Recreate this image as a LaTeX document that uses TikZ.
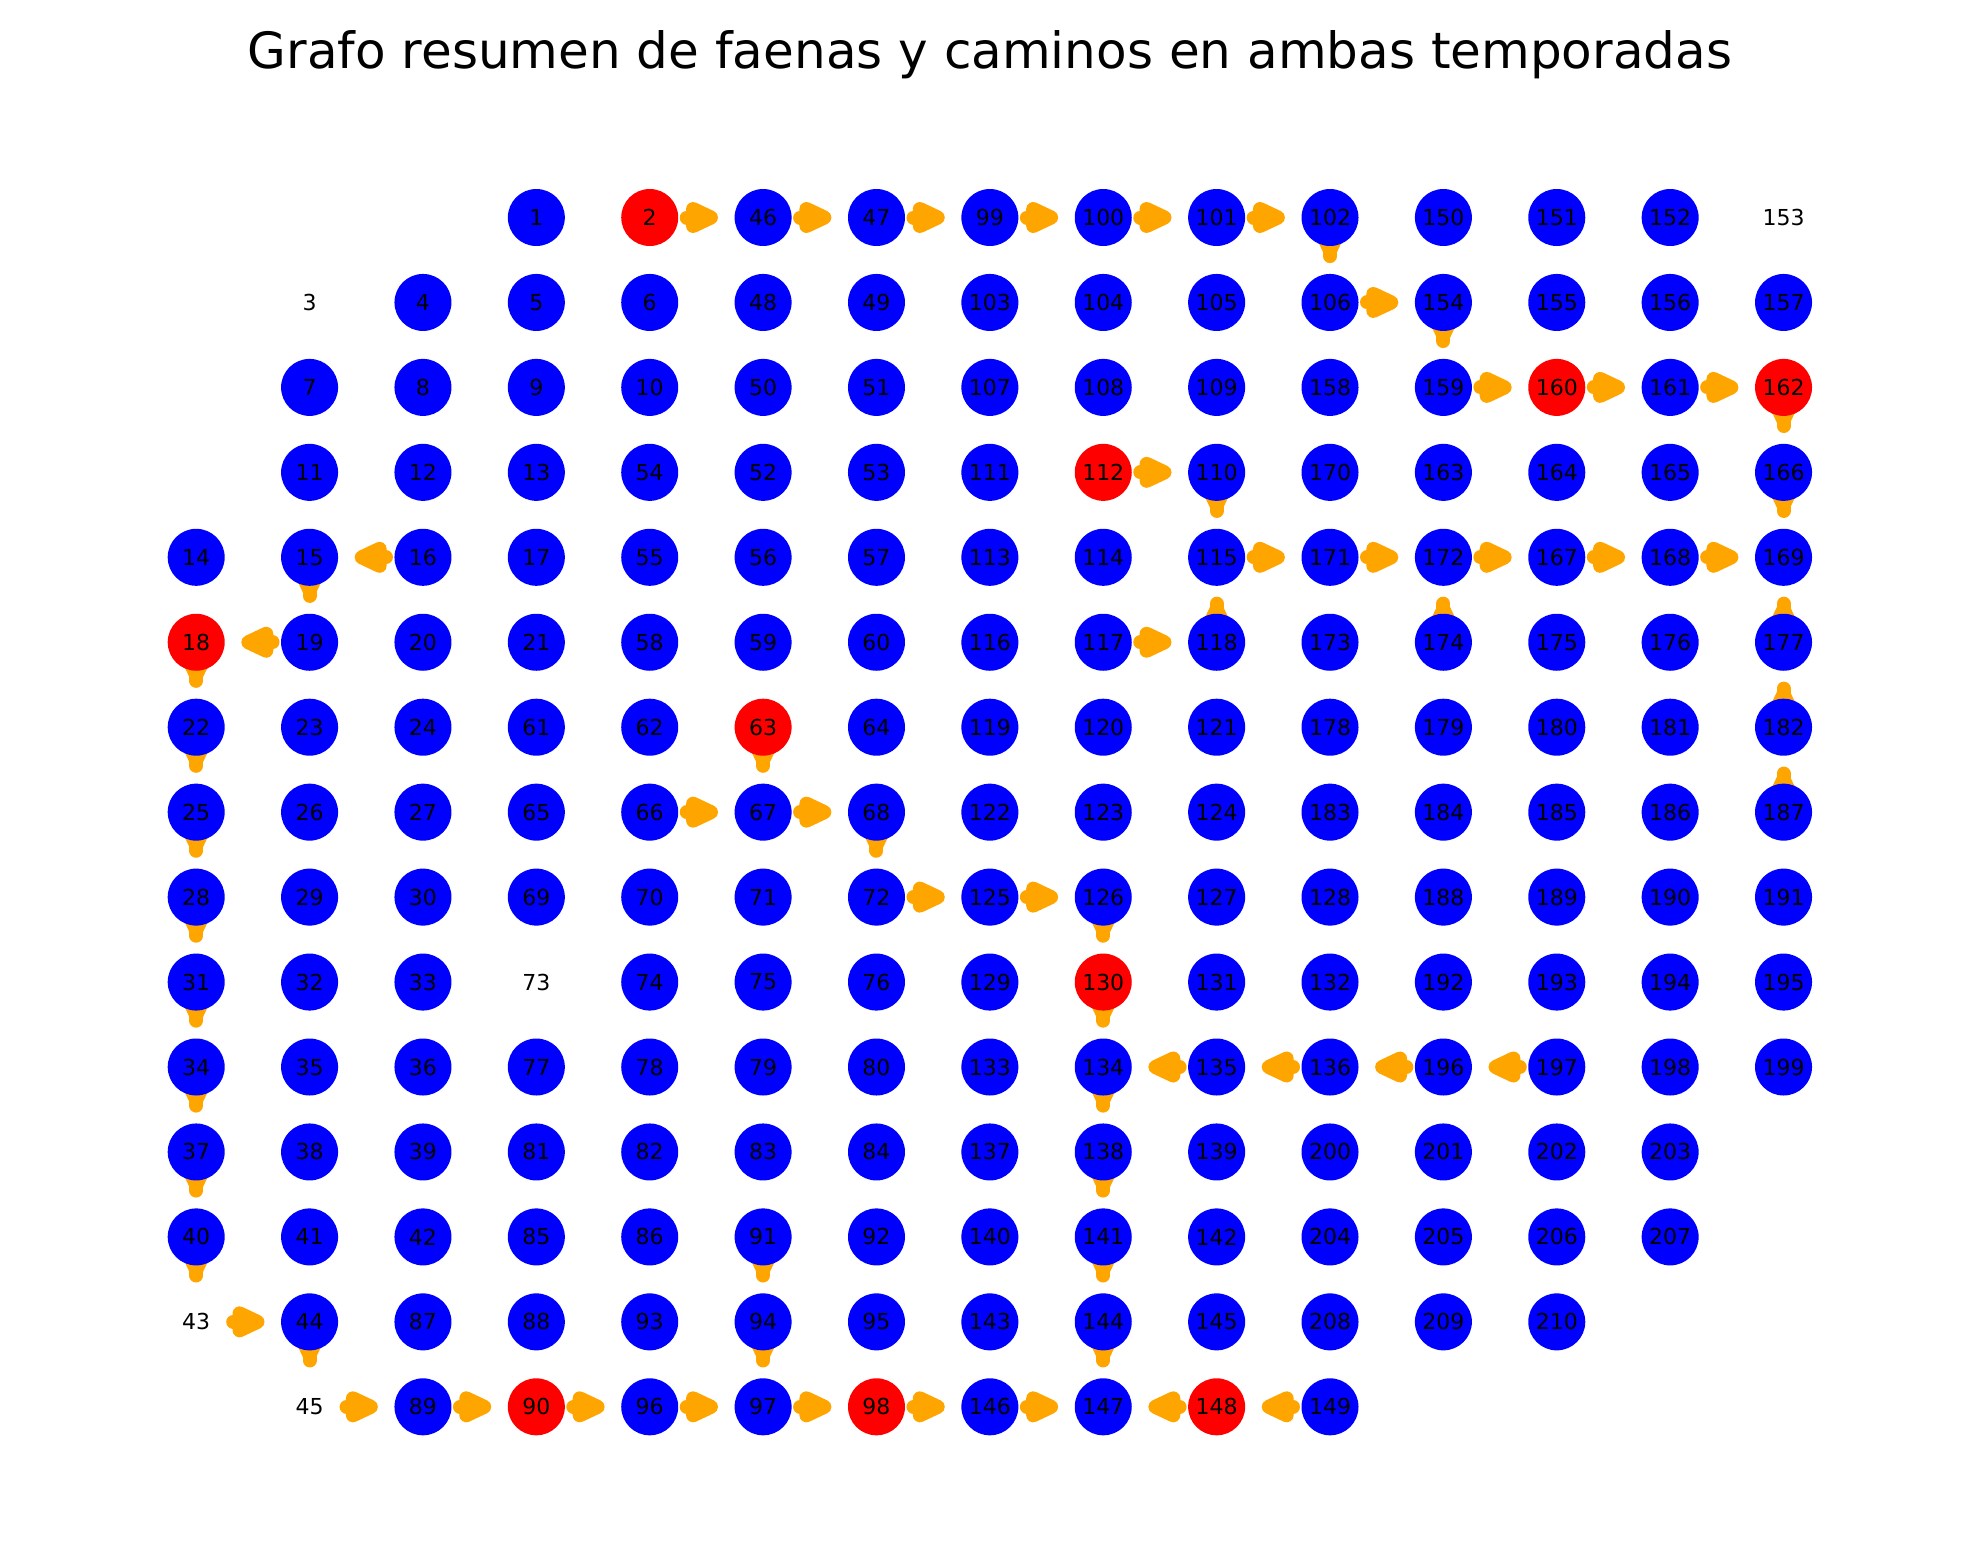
\documentclass[tikz,border=0pt]{standalone}
\usepackage{fontspec}
\setmainfont{DejaVu Sans}
\usetikzlibrary{calc}
\definecolor{nodeblue}{HTML}{0000FF}
\definecolor{nodered}{HTML}{FF0000}
\definecolor{edgeorange}{HTML}{FFA500}
\pgfdeclarelayer{bg}
\pgfsetlayers{bg,main}
\newcommand\lblfont{\fontsize{22}{22}\selectfont}
\newcommand\gridrow[3]{%
  \foreach \lab [count=\i from 0] in {#3} {%
    \pgfmathsetmacro\cx{196.2+113.38*(#2+\i)}%
    \pgfmathsetmacro\cy{217.5+84.95*#1}%
    \node[vtx, k\lab/.try] (n\lab) at (\cx,\cy) {\lab};
  }}
\newcommand\edgeH[2]{%
  \draw[shaft] ($(n#1)!37pt!(n#2)$) -- ($(n#1)!44pt!(n#2)$);
  \coordinate (hb) at ($(n#1)!43.3pt!(n#2)$);
  \filldraw[head] ($(n#1)!61.3pt!(n#2)$) -- ($(hb)!8.5pt!90:(n#2)$) -- ($(hb)!8.5pt!-90:(n#2)$) -- cycle;}
\newcommand\edgeV[2]{%
  \draw[shaft] ($(n#1)!20pt!(n#2)$) -- ($(n#1)!38.6pt!(n#2)$);
  \coordinate (hb) at ($(n#1)!15pt!(n#2)$);
  \filldraw[head] ($(n#1)!33pt!(n#2)$) -- ($(hb)!8.5pt!90:(n#2)$) -- ($(hb)!8.5pt!-90:(n#2)$) -- cycle;}
\begin{document}
\begin{tikzpicture}[x=1pt,y=-1pt,
  vtx/.style={circle, fill=nodeblue, minimum size=57pt, inner sep=0pt, text=black, font=\lblfont},
  faena/.style={fill=nodered},
  bare/.style={fill=none},
  k2/.style={faena}, k160/.style={faena}, k162/.style={faena}, k112/.style={faena},
  k18/.style={faena}, k63/.style={faena}, k130/.style={faena}, k90/.style={faena},
  k98/.style={faena}, k148/.style={faena},
  k3/.style={bare}, k43/.style={bare}, k45/.style={bare}, k73/.style={bare}, k153/.style={bare},
  shaft/.style={draw=edgeorange, line width=14pt, line cap=round},
  head/.style={draw=edgeorange, fill=edgeorange, line width=14pt, line join=round}]
\useasboundingbox (0,0) rectangle (1980,1563);
\node[anchor=base, font=\fontsize{50}{50}\selectfont] (title) at (990,69) {Grafo resumen de faenas y caminos en ambas temporadas};
\gridrow{0}{3}{1,2,46,47,99,100,101,102,150,151,152,153}
\gridrow{1}{1}{3,4,5,6,48,49,103,104,105,106,154,155,156,157}
\gridrow{2}{1}{7,8,9,10,50,51,107,108,109,158,159,160,161,162}
\gridrow{3}{1}{11,12,13,54,52,53,111,112,110,170,163,164,165,166}
\gridrow{4}{0}{14,15,16,17,55,56,57,113,114,115,171,172,167,168,169}
\gridrow{5}{0}{18,19,20,21,58,59,60,116,117,118,173,174,175,176,177}
\gridrow{6}{0}{22,23,24,61,62,63,64,119,120,121,178,179,180,181,182}
\gridrow{7}{0}{25,26,27,65,66,67,68,122,123,124,183,184,185,186,187}
\gridrow{8}{0}{28,29,30,69,70,71,72,125,126,127,128,188,189,190,191}
\gridrow{9}{0}{31,32,33,73,74,75,76,129,130,131,132,192,193,194,195}
\gridrow{10}{0}{34,35,36,77,78,79,80,133,134,135,136,196,197,198,199}
\gridrow{11}{0}{37,38,39,81,82,83,84,137,138,139,200,201,202,203}
\gridrow{12}{0}{40,41,42,85,86,91,92,140,141,142,204,205,206,207}
\gridrow{13}{0}{43,44,87,88,93,94,95,143,144,145,208,209,210}
\gridrow{14}{1}{45,89,90,96,97,98,146,147,148,149}
\begin{pgfonlayer}{bg}
\foreach \a/\b in {2/46,46/47,47/99,99/100,100/101,101/102,106/154,159/160,160/161,161/162,
  112/110,115/171,171/172,172/167,167/168,168/169,117/118,16/15,19/18,43/44,
  45/89,89/90,90/96,96/97,97/98,98/146,146/147,148/147,149/148,
  66/67,67/68,72/125,125/126,135/134,136/135,196/136,197/196}
  {\edgeH{\a}{\b}}
\foreach \a/\b in {102/106,154/159,162/166,166/169,110/115,118/115,174/172,177/169,182/177,187/182,
  15/19,18/22,22/25,25/28,28/31,31/34,34/37,37/40,40/43,44/45,
  63/67,68/72,126/130,130/134,134/138,138/141,141/144,144/147,91/94,94/97}
  {\edgeV{\a}{\b}}
\end{pgfonlayer}
\end{tikzpicture}
\end{document}
